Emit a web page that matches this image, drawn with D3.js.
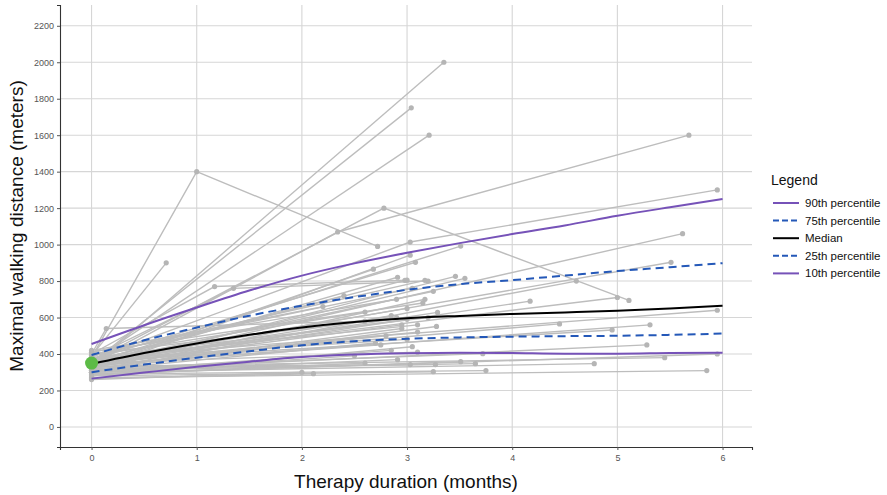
<!DOCTYPE html>
<html>
<head>
<meta charset="utf-8">
<script src="https://cdn.jsdelivr.net/npm/d3@7"></script>
<style>
  body { margin: 0; background: #fff; }
  svg { font-family: "Liberation Sans", Arial, sans-serif; }
</style>
</head>
<body>
<svg id="chart" width="887" height="495"></svg>
<script>
// individual patients: [months, meters]
var patients = [
  [[0,330],[3.35,2000]],
  [[0,350],[3.04,1750]],
  [[0,360],[3.21,1600]],
  [[0,380],[1,1400],[2.72,990]],
  [[0,390],[0.71,900]],
  [[0,400],[0.14,540],[2.6,580]],
  [[0,400],[1.17,770],[3.0,805]],
  [[0,380],[1.35,760],[3.2,800]],
  [[0,360],[2.78,1200],[5.11,694]],
  [[0,370],[3.03,1014],[5.95,1300]],
  [[0,340],[2.34,1069],[5.68,1600]],
  [[0,320],[5.62,1060]],
  [[0,350],[5.51,903]],
  [[0,360],[5.0,710]],
  [[0,300],[4.61,800]],
  [[0,330],[4.17,690]],
  [[0,350],[4.45,565]],
  [[0,360],[4.95,532]],
  [[0,340],[5.31,560]],
  [[0,380],[5.95,640]],
  [[0,310],[5.28,450]],
  [[0,330],[5.45,380]],
  [[0,290],[5.95,400]],
  [[0,300],[4.78,347]],
  [[0,270],[5.85,309]],
  [[0,290],[3.75,309]],
  [[0,310],[3.65,347]],
  [[0,320],[3.72,402]],
  [[0,330],[3.55,815]],
  [[0,350],[3.51,992]],
  [[0,310],[3.03,942]],
  [[0,370],[3.08,903]],
  [[0,330],[2.68,865]],
  [[0,340],[2.91,821]],
  [[0,360],[2.98,804]],
  [[0,390],[3.17,804]],
  [[0,320],[3.46,826]],
  [[0,350],[3.25,744]],
  [[0,300],[3.17,700]],
  [[0,340],[3.29,628]],
  [[0,310],[3.28,551]],
  [[0,290],[3.51,358]],
  [[0,280],[3.25,303]],
  [[0,265],[2.11,292]],
  [[0,300],[2.91,369]],
  [[0,320],[3.03,342]],
  [[0,330],[3.27,342]],
  [[0,360],[3.0,650]],
  [[0,400],[2.9,600]],
  [[0,340],[2.95,560]],
  [[0,350],[3.1,520]],
  [[0,330],[2.8,500]],
  [[0,370],[3.0,480]],
  [[0,310],[2.7,460]],
  [[0,280],[3.05,440]],
  [[0,300],[2.85,420]],
  [[0,410],[3.15,680]],
  [[0,390],[2.6,630]],
  [[0,360],[3.0,590]],
  [[0,320],[2.95,540]],
  [[0,380],[3.2,600]],
  [[0,340],[2.75,450]],
  [[0,350],[3.1,410]],
  [[0,300],[2.5,390]],
  [[0,360],[2.4,720]],
  [[0,410],[2.2,660]],
  [[0,395],[3.05,760]],
  [[0,260],[2.0,300]],
  [[0,420],[2.9,700]],
  [[0,375],[3.1,560]],
  [[0,345],[2.85,610]],
  [[0,285],[2.6,350]]
];

// percentile curves
var pctMonths = [0, 0.5, 1, 1.5, 2, 2.5, 3, 3.5, 4, 4.5, 5, 5.5, 6];
var p90 = [455, 558, 655, 748, 830, 897, 955, 1008, 1058, 1105, 1158, 1205, 1250];
var p75 = [395, 475, 545, 610, 665, 712, 752, 783, 805, 830, 855, 876, 898];
var p50 = [345, 405, 458, 505, 545, 575, 596, 609, 620, 628, 637, 650, 665];
var p25 = [300, 342, 380, 415, 448, 470, 483, 491, 495, 498, 500, 505, 512];
var p10 = [265, 298, 330, 358, 383, 397, 404, 407, 405, 402, 402, 405, 407];

var baseline = [0, 350];

var xTicks = [0, 1, 2, 3, 4, 5, 6];
var yTicks = [0, 200, 400, 600, 800, 1000, 1200, 1400, 1600, 1800, 2000, 2200];

var legendLabels = ['90th percentile', '75th percentile', 'Median', '25th percentile', '10th percentile'];

var purple = '#7652b8', blue = '#2458b8';
var series = [
  { values: p90, color: purple, dash: null },
  { values: p75, color: blue, dash: '8,5' },
  { values: p50, color: '#000', dash: null },
  { values: p25, color: blue, dash: '8,5' },
  { values: p10, color: purple, dash: null }
];

var svg = d3.select('#chart');
var panel = { left: 60, right: 752, top: 5, bottom: 447 };

var x = d3.scaleLinear().domain([-0.3, 6.28]).range([panel.left, panel.right]);
var y = d3.scaleLinear().domain([-110, 2314]).range([panel.bottom, panel.top]);

// grid
svg.append('g').selectAll('line').data(yTicks).enter().append('line')
  .attr('x1', panel.left).attr('x2', panel.right)
  .attr('y1', function(d) { return y(d); }).attr('y2', function(d) { return y(d); })
  .attr('stroke', '#d6d6d6').attr('stroke-width', 1.1);
svg.append('g').selectAll('line').data(xTicks).enter().append('line')
  .attr('y1', panel.top).attr('y2', panel.bottom)
  .attr('x1', function(d) { return x(d); }).attr('x2', function(d) { return x(d); })
  .attr('stroke', '#d6d6d6').attr('stroke-width', 1.1);

// axes
var yAxis = svg.append('g')
  .attr('transform', 'translate(' + panel.left + ',0)')
  .call(d3.axisLeft(y).tickValues(yTicks).tickFormat(d3.format('d')).tickSize(3).tickPadding(3));
var xAxis = svg.append('g')
  .attr('transform', 'translate(0,' + panel.bottom + ')')
  .call(d3.axisBottom(x).tickValues(xTicks).tickFormat(d3.format('d')).tickSize(3).tickPadding(5));
[xAxis, yAxis].forEach(function(a) {
  a.select('.domain').attr('stroke', '#333').attr('stroke-width', 1.1);
  a.selectAll('.tick line').attr('stroke', '#555');
  a.selectAll('.tick text').attr('fill', '#555').attr('font-size', '9px');
});

// patient lines
var line = d3.line()
  .x(function(d) { return x(d[0]); })
  .y(function(d) { return y(d[1]); });

svg.append('g').selectAll('path').data(patients).enter().append('path')
  .attr('d', line)
  .attr('fill', 'none')
  .attr('stroke', '#bdbdbd')
  .attr('stroke-width', 1.4);

var allPoints = [];
patients.forEach(function(p) { p.forEach(function(pt) { allPoints.push(pt); }); });
svg.append('g').selectAll('circle').data(allPoints).enter().append('circle')
  .attr('cx', function(d) { return x(d[0]); })
  .attr('cy', function(d) { return y(d[1]); })
  .attr('r', 2.6)
  .attr('fill', '#b5b5b5');

// percentile curves
var curve = d3.line()
  .x(function(d, i) { return x(pctMonths[i]); })
  .y(function(d) { return y(d); })
  .curve(d3.curveMonotoneX);

svg.append('g').selectAll('path').data(series).enter().append('path')
  .attr('d', function(s) { return curve(s.values); })
  .attr('fill', 'none')
  .attr('stroke', function(s) { return s.color; })
  .attr('stroke-width', 2)
  .attr('stroke-dasharray', function(s) { return s.dash; });

// baseline marker
svg.append('circle')
  .attr('cx', x(baseline[0])).attr('cy', y(baseline[1]))
  .attr('r', 6.5).attr('fill', '#5cbb46');

// axis titles
svg.append('text')
  .attr('x', (panel.left + panel.right) / 2).attr('y', 488)
  .attr('text-anchor', 'middle').attr('font-size', '19px').attr('fill', '#111')
  .text('Therapy duration (months)');
svg.append('text')
  .attr('transform', 'translate(23,' + ((panel.top + panel.bottom) / 2) + ') rotate(-90)')
  .attr('text-anchor', 'middle').attr('font-size', '19px').attr('fill', '#111')
  .text('Maximal walking distance (meters)');

// legend
var legend = svg.append('g').attr('transform', 'translate(771,0)');
legend.append('text').attr('x', 0).attr('y', 185)
  .attr('font-size', '14px').attr('fill', '#111').text('Legend');
var rows = legend.selectAll('g.row').data(series).enter().append('g')
  .attr('transform', function(d, i) { return 'translate(0,' + (203 + i * 17.6) + ')'; });
rows.append('line')
  .attr('x1', 2).attr('x2', 28).attr('y1', 0).attr('y2', 0)
  .attr('stroke', function(s) { return s.color; })
  .attr('stroke-width', 2)
  .attr('stroke-dasharray', function(s) { return s.dash ? '6,3' : null; });
rows.append('text')
  .attr('x', 34).attr('y', 0).attr('dy', '0.35em')
  .attr('font-size', '11.5px').attr('fill', '#111')
  .text(function(d, i) { return legendLabels[i]; });
</script>
</body>
</html>
